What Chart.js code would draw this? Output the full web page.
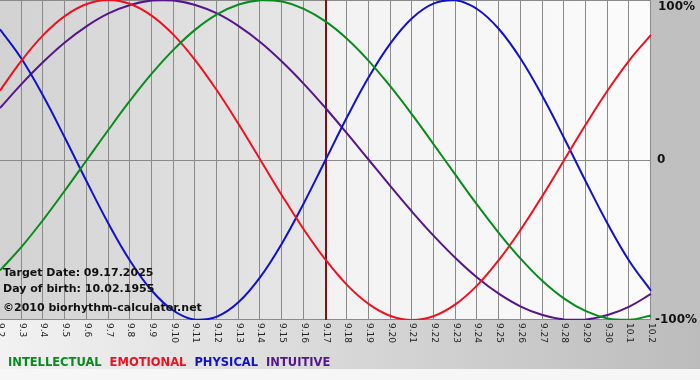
<!DOCTYPE html>
<html>
<head>
<meta charset="utf-8">
<title>Biorhythm</title>
<script src="https://cdn.jsdelivr.net/npm/chart.js@4"></script>
<style>
    html, body { margin: 0; padding: 0; background: #f6f6f6; }
    #bioChart { display: block; }
</style>
</head>
<body>
<canvas id="bioChart" width="700" height="380"></canvas>
<script>
// Dates on the x axis (month.day)
const days = ['9.2', '9.3', '9.4', '9.5', '9.6', '9.7', '9.8', '9.9', '9.10', '9.11',
    '9.12', '9.13', '9.14', '9.15', '9.16', '9.17', '9.18', '9.19', '9.20', '9.21',
    '9.22', '9.23', '9.24', '9.25', '9.26', '9.27', '9.28', '9.29', '9.30', '10.1', '10.2'];

// Values, -1 .. 1
const intellectual = [-0.690, -0.541, -0.372, -0.189, 0, 0.189, 0.372, 0.541, 0.690, 0.815,
    0.910, 0.972, 0.999, 0.990, 0.945, 0.866, 0.756, 0.618, 0.458, 0.282,
    0.095, -0.095, -0.282, -0.458, -0.618, -0.756, -0.866, -0.945, -0.990, -0.999, -0.972];
const emotional = [0.434, 0.623, 0.782, 0.901, 0.975, 1.0, 0.975, 0.901, 0.782, 0.623,
    0.434, 0.223, 0, -0.223, -0.434, -0.623, -0.782, -0.901, -0.975, -1.0,
    -0.975, -0.901, -0.782, -0.623, -0.434, -0.223, 0, 0.223, 0.434, 0.623, 0.782];
const physical = [0.817, 0.631, 0.398, 0.136, -0.136, -0.398, -0.631, -0.817, -0.942, -0.998,
    -0.979, -0.888, -0.731, -0.520, -0.270, 0, 0.270, 0.520, 0.731, 0.888,
    0.979, 0.998, 0.942, 0.817, 0.631, 0.398, 0.136, -0.136, -0.398, -0.631, -0.817];
const intuitive = [0.325, 0.476, 0.614, 0.736, 0.837, 0.916, 0.969, 0.997, 0.997, 0.969,
    0.916, 0.837, 0.736, 0.614, 0.476, 0.325, 0.165, 0, -0.165, -0.325,
    -0.476, -0.614, -0.736, -0.837, -0.916, -0.969, -0.997, -0.997, -0.969, -0.916, -0.837];

const yTicks = [{ v: 1, text: '100%' }, { v: 0, text: '0' }, { v: -1, text: '-100%' }];
const targetDay = '9.17';
const infoLines = ['Target Date: 09.17.2025', 'Day of birth: 10.02.1955', '©2010 biorhythm-calculator.net'];
const legendItems = [
    { text: 'INTELLECTUAL', color: '#0a8a1e' },
    { text: 'EMOTIONAL', color: '#ee1122' },
    { text: 'PHYSICAL', color: '#1111cc' },
    { text: 'INTUITIVE', color: '#55168a' }
];

// Backgrounds, grid and the target-day line under the curves
const backdrop = {
    id: 'backdrop',
    beforeDatasetsDraw(chart) {
        const ctx = chart.ctx;
        const a = chart.chartArea;
        const x = chart.scales.x;
        const y = chart.scales.y;
        const tx = x.getPixelForValue(days.indexOf(targetDay));
        ctx.save();

        // whole picture: light left, gray right
        let g = ctx.createLinearGradient(0, 0, chart.width, 0);
        g.addColorStop(0, '#f2f2f2');
        g.addColorStop(1, '#bcbcbc');
        ctx.fillStyle = g;
        ctx.fillRect(0, 0, chart.width, 369);
        ctx.fillStyle = '#f6f6f6';
        ctx.fillRect(0, 369, chart.width, chart.height - 369);
        ctx.fillStyle = '#c0c0c0';
        ctx.fillRect(a.right, 0, chart.width - a.right, a.bottom);

        // past part of the plot
        g = ctx.createLinearGradient(a.left, 0, tx, 0);
        g.addColorStop(0, '#d2d2d2');
        g.addColorStop(1, '#e8e8e8');
        ctx.fillStyle = g;
        ctx.fillRect(a.left, a.top, tx - a.left, a.bottom - a.top);
        // future part
        g = ctx.createLinearGradient(tx, 0, a.right, 0);
        g.addColorStop(0, '#f2f2f2');
        g.addColorStop(1, '#fbfbfb');
        ctx.fillStyle = g;
        ctx.fillRect(tx, a.top, a.right - tx, a.bottom - a.top);

        // vertical grid, one per day
        ctx.strokeStyle = '#8a8a8a';
        ctx.lineWidth = 1;
        ctx.beginPath();
        days.forEach((d, i) => {
            const px = Math.round(x.getPixelForValue(i)) - 0.5;
            ctx.moveTo(px, a.top);
            ctx.lineTo(px, a.bottom);
        });
        yTicks.forEach(t => {
            const py = Math.min(Math.round(y.getPixelForValue(t.v)) + 0.5, a.bottom - 0.5);
            ctx.moveTo(a.left, py);
            ctx.lineTo(a.right, py);
        });
        ctx.stroke();

        // target day
        ctx.strokeStyle = '#7a1414';
        ctx.lineWidth = 2;
        ctx.beginPath();
        ctx.moveTo(Math.round(tx), a.top);
        ctx.lineTo(Math.round(tx), a.bottom);
        ctx.stroke();
        ctx.restore();
    }
};

// Texts: info block, right axis, rotated dates, legend
const labels = {
    id: 'labels',
    afterDraw(chart) {
        const ctx = chart.ctx;
        const a = chart.chartArea;
        const x = chart.scales.x;
        const y = chart.scales.y;
        ctx.save();

        ctx.fillStyle = '#111';
        ctx.font = 'bold 11px "DejaVu Sans"';
        ctx.textAlign = 'left';
        ctx.textBaseline = 'alphabetic';
        ctx.fillText(infoLines[0], 3, 276);
        ctx.fillText(infoLines[1], 3, 292);
        ctx.fillText(infoLines[2], 3, 311);

        ctx.font = 'bold 12px "DejaVu Sans"';
        ctx.textBaseline = 'middle';
        yTicks.forEach(t => {
            const py = Math.min(Math.max(y.getPixelForValue(t.v), a.top + 7), a.bottom + 2);
            ctx.fillText(t.text, a.right + (t.v === 1 ? 7 : t.v === 0 ? 6 : 4), py);
        });

        // dates written top to bottom
        ctx.fillStyle = '#222';
        ctx.font = '9px "DejaVu Sans"';
        days.forEach((d, i) => {
            ctx.save();
            ctx.translate(Math.round(x.getPixelForValue(i)), a.bottom + 3);
            ctx.rotate(Math.PI / 2);
            ctx.textAlign = 'left';
            ctx.textBaseline = 'middle';
            ctx.fillText(d, 0, 0);
            ctx.restore();
        });

        ctx.font = 'bold 11.5px "DejaVu Sans"';
        ctx.textBaseline = 'alphabetic';
        let lx = 8;
        legendItems.forEach(item => {
            ctx.fillStyle = item.color;
            ctx.fillText(item.text, lx, 366);
            lx += ctx.measureText(item.text).width + 8;
        });
        ctx.restore();
    }
};

function makeSet(label, values, color) {
    return {
        label: label,
        data: values,
        borderColor: color,
        borderWidth: 2,
        pointRadius: 0,
        tension: 0.4,
        fill: false
    };
}

function loadBioChart() {
    const ctx = document.getElementById('bioChart').getContext('2d');
    new Chart(ctx, {
        type: 'line',
        data: {
            labels: days,
            datasets: [
                makeSet('INTELLECTUAL', intellectual, legendItems[0].color),
                makeSet('EMOTIONAL', emotional, legendItems[1].color),
                makeSet('PHYSICAL', physical, legendItems[2].color),
                makeSet('INTUITIVE', intuitive, legendItems[3].color)
            ]
        },
        options: {
            responsive: false,
            animation: false,
            layout: { padding: { left: 0, right: 49, top: 0, bottom: 60 } },
            plugins: {
                legend: { display: false },
                tooltip: { enabled: false }
            },
            scales: {
                x: { display: false },
                y: { display: false, min: -1, max: 1 }
            }
        },
        plugins: [backdrop, labels]
    });
}

loadBioChart();
</script>
</body>
</html>
